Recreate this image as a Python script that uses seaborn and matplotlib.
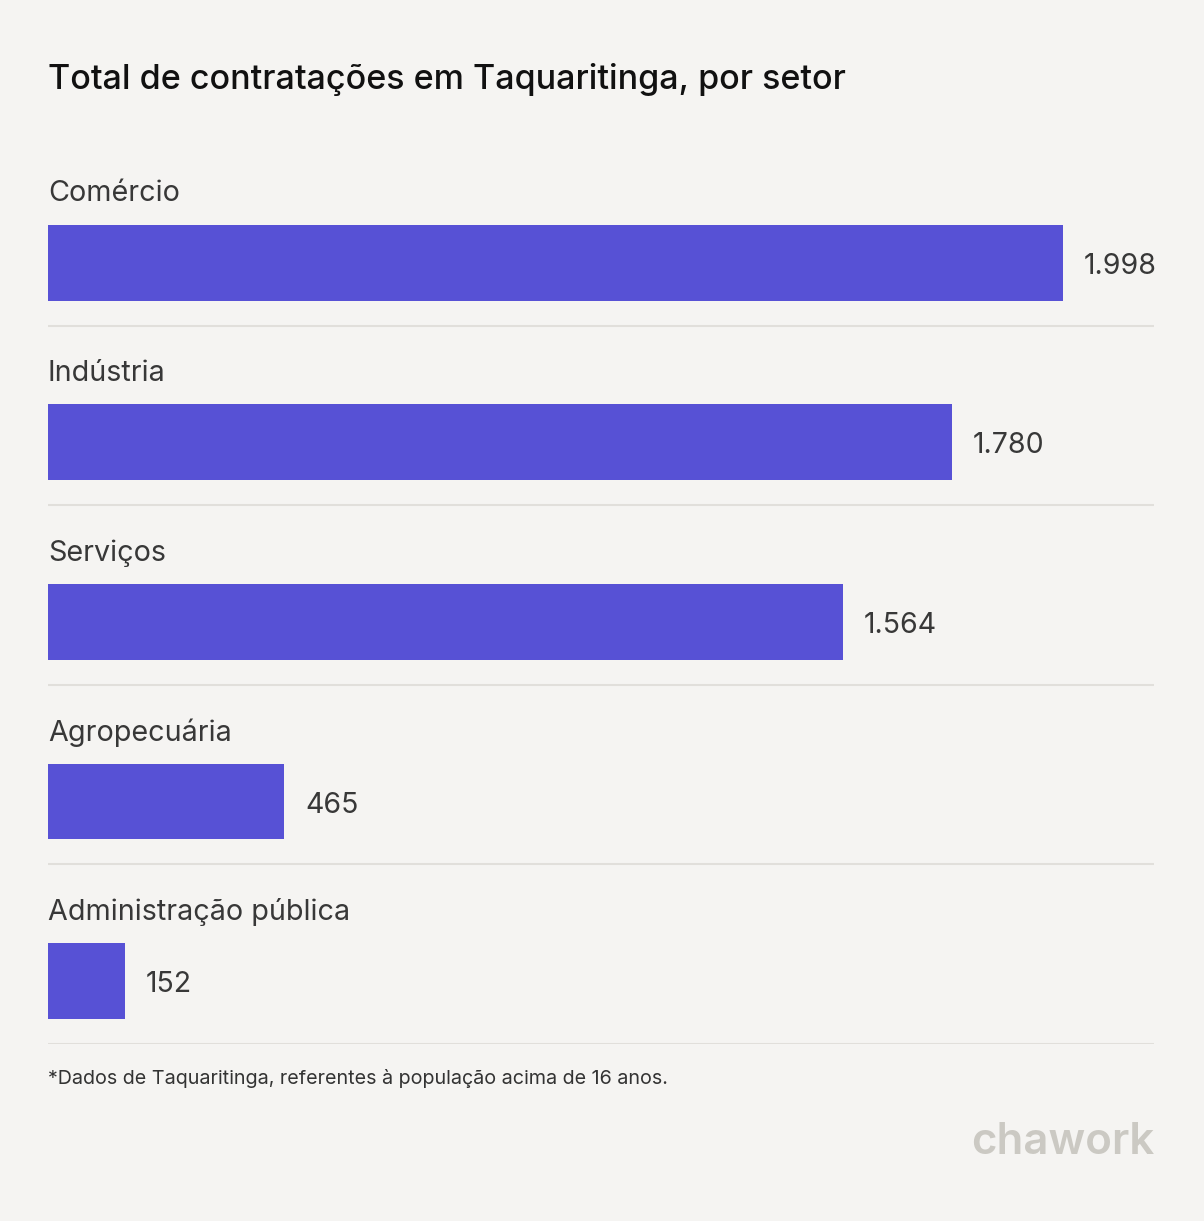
import matplotlib
matplotlib.use("Agg")
import matplotlib.pyplot as plt
import seaborn as sns
import pandas as pd

categories = ["Comércio", "Indústria", "Serviços", "Agropecuária", "Administração pública"]
values = [1998, 1780, 1564, 465, 152]
value_labels = ["1.998", "1.780", "1.564", "465", "152"]

title = "Total de contratações em Taquaritinga, por setor"
footnote = "*Dados de Taquaritinga, referentes à população acima de 16 anos."

sns.set_theme(style="white")
plt.rcParams["font.family"] = ["Inter", "DejaVu Sans"]

BG = "#f5f4f2"
BAR = "#5751d5"
TXT = "#383838"

W, H = 1204, 1221
fig = plt.figure(figsize=(W / 100, H / 100), dpi=100, facecolor=BG)
ax = fig.add_axes([48 / W, (H - 1044) / H, (1154 - 48) / W, (1044 - 144) / H])
ax.set_facecolor(BG)

df = pd.DataFrame({"cat": categories, "val": values})
sns.barplot(data=df, x="val", y="cat", orient="h", color=BAR, width=76 / 180,
            saturation=1, ax=ax, order=categories, linewidth=0, edgecolor="none")

ax.set_xlim(0, 1106 / (1015 / 1998))
ax.set_ylim(4.35, -0.661)
for s in ax.spines.values():
    s.set_visible(False)
ax.set_xticks([])
ax.set_yticks([])
ax.set_xlabel("")
ax.set_ylabel("")

for i, (c, v, lab) in enumerate(zip(categories, values, value_labels)):
    ax.axhline(i + 0.35, color="#e1dfdb", lw=1.5, zorder=0)
    ax.text(0, i - 0.385, c, ha="left", va="center", fontsize=20.7, color=TXT)
    ax.annotate(lab, (v, i + 0.02), xytext=(15, 0), textcoords="offset points",
                ha="left", va="center", fontsize=20.5, color=TXT)

fig.text(48 / W, 1 - 80 / H, title, ha="left", va="center", fontsize=24.5,
         color="#111111", fontweight="medium")
fig.text(48 / W, 1 - 1079 / H, footnote, ha="left", va="center", fontsize=14.2,
         color="#333333")
fig.text(1154 / W, 1 - 1143 / H, "chawork", ha="right", va="center", fontsize=31.5,
         color="#cbc9c3", fontweight="semibold")

fig.savefig("out.png", dpi=100, facecolor=BG)
